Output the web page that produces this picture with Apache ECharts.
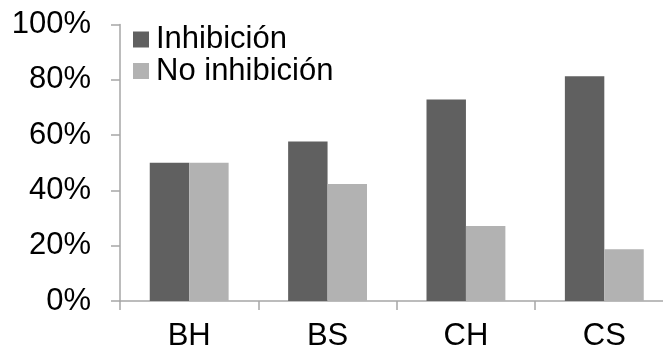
<!DOCTYPE html>
<html>
<head>
<meta charset="utf-8">
<script src="https://cdn.jsdelivr.net/npm/echarts@6/dist/echarts.min.js"></script>
<style>
  html, body { margin: 0; padding: 0; background: #fff; }
  #chart { width: 663px; height: 351px; }
</style>
</head>
<body>
<div id="chart"></div>
<script>
// Share of samples with / without inhibition per group (percent)
const categories = ['BH', 'BS', 'CH', 'CS'];
const inhibicion = [50, 57.7, 72.9, 81.3];
const noInhibicion = [50, 42.3, 27.1, 18.7];
const yTicks = [0, 20, 40, 60, 80, 100];

const FONT = '"Liberation Sans", Arial, sans-serif';
const FONT_SIZE = 31;
const AXIS_GRAY = '#a6a6a6';

const chart = echarts.init(document.getElementById('chart'), null, { renderer: 'canvas' });

chart.setOption({
  animation: false,
  backgroundColor: '#ffffff',
  textStyle: { fontFamily: FONT },
  grid: {
    left: 120, top: 24.5, bottom: 50, right: -10.5,
    containLabel: false,
    outerBoundsMode: 'none'
  },
  legend: {
    orient: 'vertical',
    left: 133,
    top: 24,
    padding: 0,
    itemWidth: 16,
    itemHeight: 16,
    itemGap: 0.5,
    icon: 'rect',
    textStyle: { fontFamily: FONT, fontSize: FONT_SIZE, color: '#000', lineHeight: 31, padding: [0, 0, 0, 2] },
    data: ['Inhibición', 'No inhibición']
  },
  xAxis: {
    type: 'category',
    data: categories,
    axisLine: { lineStyle: { color: AXIS_GRAY, width: 1.5 } },
    axisTick: { show: true, length: 9, lineStyle: { color: AXIS_GRAY, width: 1.5 } },
    axisLabel: { fontFamily: FONT, fontSize: FONT_SIZE, color: '#000', margin: 20 }
  },
  yAxis: {
    type: 'value',
    min: yTicks[0],
    max: yTicks[yTicks.length - 1],
    interval: yTicks[1] - yTicks[0],
    splitLine: { show: false },
    axisLine: { show: true, lineStyle: { color: AXIS_GRAY, width: 1.5 } },
    axisTick: { show: true, length: 9, lineStyle: { color: AXIS_GRAY, width: 1.5 } },
    axisLabel: { fontFamily: FONT, fontSize: FONT_SIZE, color: '#000', margin: 29, formatter: '{value}%' }
  },
  series: [
    {
      name: 'Inhibición',
      type: 'bar',
      data: inhibicion,
      barGap: '0%',
      barCategoryGap: '43%',
      itemStyle: { color: '#606060' }
    },
    {
      name: 'No inhibición',
      type: 'bar',
      data: noInhibicion,
      barGap: '0%',
      barCategoryGap: '43%',
      itemStyle: { color: '#b2b2b2' }
    }
  ]
});
</script>
</body>
</html>
